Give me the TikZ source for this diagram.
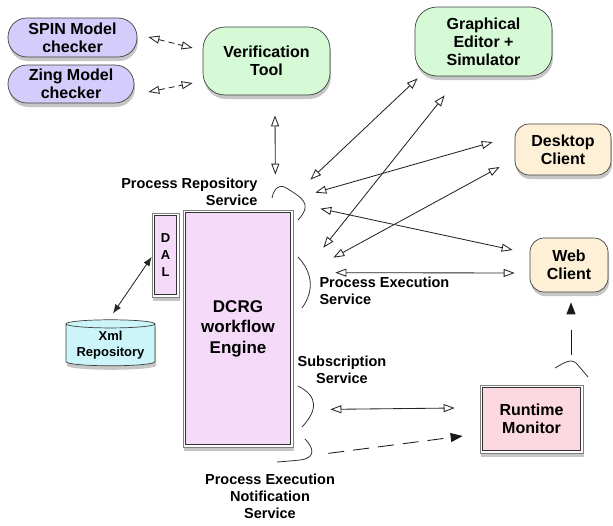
\documentclass[tikz,border=0pt]{standalone}
\usepackage{fontspec}
\setmainfont{Liberation Sans}
\usetikzlibrary{shapes.geometric,shadows,arrows.meta,calc}

\definecolor{checkerblue}{RGB}{212,204,250}
\definecolor{toolgreen}{RGB}{214,249,214}
\definecolor{clientcream}{RGB}{253,240,214}
\definecolor{enginepink}{RGB}{246,218,250}
\definecolor{repocyan}{RGB}{204,245,250}
\definecolor{monitorpink}{RGB}{252,216,224}

\tikzset{
  box/.style={draw=black!75, line width=0.7pt, align=center, inner sep=0pt,
    font=\bfseries\fontsize{16}{18}\selectfont,
    drop shadow={shadow xshift=1pt, shadow yshift=-4pt, opacity=0.45}},
  pill/.style={box, rounded corners=#1},
  dbox/.style={box, draw=black!50, fill=white,
    path picture={\filldraw[fill=#1, draw=black!80, line width=0.7pt]
      ([shift={(2.6pt,-2.6pt)}]path picture bounding box.north west) rectangle
      ([shift={(-2.6pt,2.6pt)}]path picture bounding box.south east);}},
  service/.style={font=\bfseries\fontsize{14.5}{17}\selectfont},
  twoway/.style={draw=black!85, line width=0.85pt,
    {Triangle[open,length=11pt,width=8pt]}-{Triangle[open,length=11pt,width=8pt]}},
  oneway/.style={draw=black!90, line width=0.85pt, -{Triangle[length=12pt,width=9pt]}},
  brace/.style={draw=black!80, line width=0.8pt},
}

\begin{document}
\begin{tikzpicture}[x=1pt, y=-1pt]
\useasboundingbox (0,0) rectangle (613,525);
% Place nodes
\node[pill=19pt, fill=checkerblue, minimum width=129pt, minimum height=39pt] (spin) at (72.5,37.5) {SPIN Model\\checker};
\node[pill=19pt, fill=checkerblue, minimum width=126pt, minimum height=38pt] (zing) at (71,84) {Zing Model\\checker};
\node[pill=22pt, fill=toolgreen, minimum width=127pt, minimum height=68pt] (verif) at (266.5,61) {Verification\\Tool};
\node[pill=22pt, fill=toolgreen, minimum width=137pt, minimum height=69pt] (ged) at (483.5,41.5) {Graphical\\Editor +\\Simulator};
\node[pill=14pt, fill=clientcream, minimum width=96pt, minimum height=51pt] (desk) at (563,149.5) {Desktop\\Client};
\node[pill=14pt, fill=clientcream, minimum width=78pt, minimum height=54pt] (web) at (569,265) {Web\\Client};

\node[dbox=enginepink, minimum width=110pt, minimum height=237pt,
  font=\bfseries\fontsize{17}{20.5}\selectfont] (engine) at (238,328.5) {DCRG\\workflow\\Engine};
\node[dbox=enginepink, minimum width=27pt, minimum height=84pt,
  font=\bfseries\fontsize{13}{17}\selectfont] (dal) at (165.5,255) {D\\A\\L};
\node[box, cylinder, shape border rotate=90, aspect=0.12, fill=repocyan,
  minimum width=89pt, minimum height=46pt,
  font=\bfseries\fontsize{13}{16}\selectfont] (xml) at (110.5,345) {Xml\\Repository};
\node[dbox=monitorpink, minimum width=103pt, minimum height=68pt] (rtm) at (531.5,419) {Runtime\\Monitor};

% service labels
\node[service, align=right, anchor=east] (repolbl) at (261,192) {Process Repository\\Service};
\node[service, align=left, anchor=west] (execlbl) at (316,291) {Process Execution\\Service};
\node[service, align=center] (subslbl) at (342,370) {Subscription\\Service};
\node[service, align=center] (notiflbl) at (270,496) {Process Execution\\Notification\\Service};

% service braces
\draw[brace] (272,198) .. controls (274,188) and (280,183) .. (288,189) .. controls (300,197) and (314,203) .. (298,220);
\draw[brace] (298,257) .. controls (312,272) and (315,290) .. (302,308);
\draw[brace] (298,386) .. controls (318,396) and (318,410) .. (302,427);
\draw[brace] (305,439) .. controls (313,447) and (317,458) .. (300,460) .. controls (290,461) .. (277,462);
\draw[brace] (555,368) .. controls (565,362) and (572,358) .. (577,364) -- (588,377);

% connectors
\draw[twoway, dash pattern=on 6pt off 4pt] ($(spin.east)+(11,-0.5)$) -- ($(verif.west)+(-10,-13)$);
\draw[twoway, dash pattern=on 6pt off 4pt] ($(zing.east)+(14,8)$) -- ($(verif.west)+(-10,22)$);
\draw[twoway] ($(verif.south)+(8.5,20)$) -- ($(engine.north east)+(-18,-35)$);

\draw[twoway] ($(engine.north east)+(17,-30)$) -- ($(ged.south west)+(3,2)$);
\draw[twoway] ($(engine.north east)+(30,38)$) -- ($(ged.south west)+(30,19)$);
\draw[twoway] ($(engine.north east)+(22,-17)$) -- ($(desk.west)+(-22,-7.5)$);
\draw[twoway] ($(engine.north east)+(40,48)$) -- ($(desk.west)+(-15,17.5)$);
\draw[twoway] ($(engine.north east)+(27,-1)$) -- ($(web.west)+(-17,-15)$);
\draw[twoway] ($(engine.north east)+(42,63)$) -- ($(web.west)+(-15,8)$);

\draw[twoway] ($(engine.south east)+(37,-38)$) -- ($(rtm.west)+(-25,-11)$);
\draw[oneway, dash pattern=on 16pt off 9pt] ($(engine.south east)+(35,6)$) -- ($(rtm.west)+(-17,17)$);
\draw[oneway, dash pattern=on 25pt off 20pt] ($(rtm.north)+(39.5,-30)$) -- ($(web.south)+(2,10)$);

\draw[draw=black!85, line width=0.85pt, {Latex[length=9pt,width=7pt]}-{Latex[length=9pt,width=7pt]}] ($(dal.west)+(0,2)$) -- ($(xml.north)+(2.5,-6)$);

\end{tikzpicture}
\end{document}
